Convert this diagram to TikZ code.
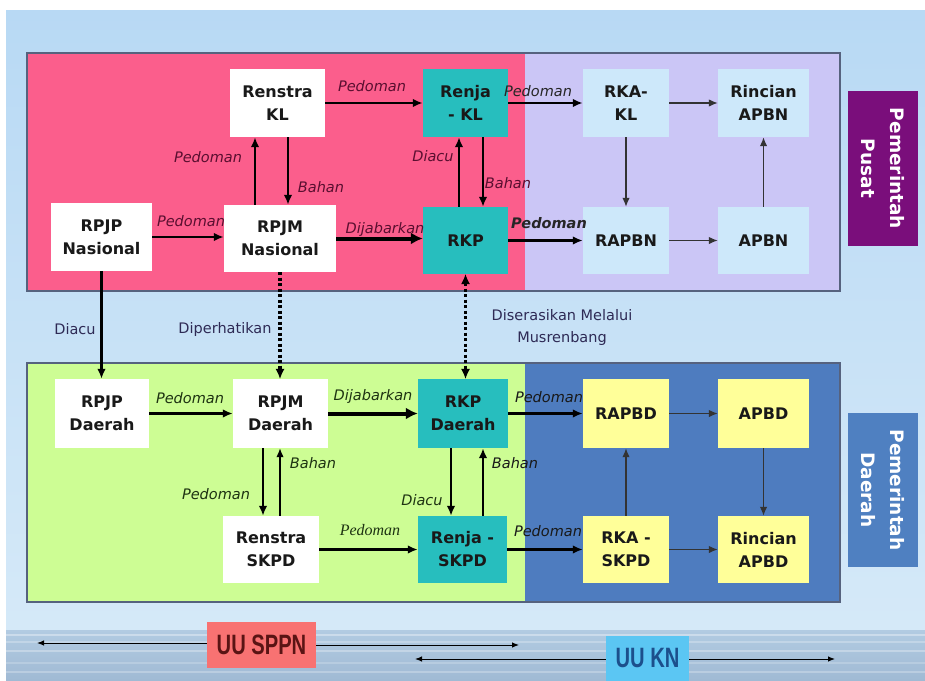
\documentclass[tikz,border=0pt]{standalone}
\usepackage{fontspec}
\setmainfont{DejaVu Sans}
\newfontfamily\serifface{Liberation Serif}
\newfontfamily\narrowface{Liberation Sans}
\usetikzlibrary{arrows.meta}
\definecolor{skyA}{HTML}{B8D9F4}
\definecolor{skyB}{HTML}{D5E9F8}
\definecolor{seaA}{HTML}{B2CBE2}
\definecolor{seaB}{HTML}{A0BAD4}
\definecolor{pinkreg}{HTML}{FB5E8C}
\definecolor{lavreg}{HTML}{CBC6F6}
\definecolor{greenreg}{HTML}{CDFD94}
\definecolor{bluereg}{HTML}{4E7CBF}
\definecolor{tealbox}{HTML}{27BEBE}
\definecolor{lbluebox}{HTML}{CDE8FA}
\definecolor{ybox}{HTML}{FFFF99}
\definecolor{purplelab}{HTML}{7A0E7B}
\definecolor{daerahlab}{HTML}{4F80C1}
\definecolor{sppncol}{HTML}{F87272}
\definecolor{kncol}{HTML}{5BC6F3}
\definecolor{framecol}{HTML}{56627E}
\definecolor{pinktxt}{HTML}{5A0F30}
\definecolor{greentxt}{HTML}{1E3312}
\definecolor{midtxt}{HTML}{2E2A55}
\definecolor{sppntxt}{HTML}{5A1414}
\definecolor{kntxt}{HTML}{1C4F8C}
\begin{document}
\begin{tikzpicture}[x=1pt,y=-1pt,
  box/.style={inner sep=2pt, align=center, text=black!90,
    font=\fontsize{16}{23}\selectfont\bfseries},
  wbox/.style={box, fill=white},
  tbox/.style={box, fill=tealbox},
  lbox/.style={box, fill=lbluebox},
  yebox/.style={box, fill=ybox},
  sidelab/.style={align=center, text=white, rotate=-90,
    font=\fontsize{18.5}{29}\selectfont\bfseries},
  lab/.style={inner sep=0pt, font=\fontsize{14.5}{16}\selectfont\itshape},
  uplab/.style={inner sep=0pt, align=center, font=\fontsize{14.5}{22}\selectfont, text=midtxt},
  arr/.style={line width=2.1pt, -{Latex[length=10pt,width=8.5pt]}},
  thickarr/.style={line width=4pt, -{Latex[length=12pt,width=12pt]}},
  thinarr/.style={line width=1.4pt, draw=black!80, -{Latex[length=9pt,width=7.5pt]}},
  dotarr/.style={line width=3.2pt, dash pattern=on 3pt off 2.5pt},
  dothead/.style={line width=1pt, -{Latex[length=10pt,width=9pt]}},
  lawarr/.style={line width=1pt, -{Latex[length=7pt,width=5.5pt]}}
]
\useasboundingbox (0,0) rectangle (925,680);
\fill[white] (0,0) rectangle (925,680);
\shade[top color=skyA, bottom color=skyB] (6,10) rectangle (925,630);
\shade[top color=seaA, bottom color=seaB] (6,630) rectangle (925,680);
\foreach \yy/\op in {634/0.35,641/0.25,650/0.3,662/0.2,671/0.25}{
  \fill[white, opacity=\op] (6,\yy) rectangle (925,\yy+1.5);
}

% regions
\fill[pinkreg] (27,53) rectangle (525,291);
\fill[lavreg] (525,53) rectangle (840,291);
\draw[framecol, line width=1.2pt] (27,53) rectangle (840,291);
\fill[greenreg] (27,363) rectangle (525,602);
\fill[bluereg] (525,363) rectangle (840,602);
\draw[framecol, line width=1.2pt] (27,363) rectangle (840,602);

% upper nodes
\node[wbox, minimum width=95, minimum height=68] (renstrakl) at (277.5,103) {Renstra\\KL};
\node[wbox, minimum width=101, minimum height=68] (rpjpn) at (101.5,237) {RPJP\\Nasional};
\node[wbox, minimum width=112, minimum height=67] (rpjmn) at (280,238.5) {RPJM\\Nasional};
\node[tbox, minimum width=85, minimum height=68] (renjakl) at (465.5,103) {Renja\\- KL};
\node[tbox, minimum width=85, minimum height=67] (rkp) at (465.5,240.5) {RKP};
\node[lbox, minimum width=86, minimum height=68] (rkakl) at (626,103) {RKA-\\KL};
\node[lbox, minimum width=91, minimum height=68] (rincianapbn) at (763.5,103) {Rincian\\APBN};
\node[lbox, minimum width=86, minimum height=67] (rapbn) at (626,240.5) {RAPBN};
\node[lbox, minimum width=91, minimum height=67] (apbn) at (763.5,240.5) {APBN};
\node[fill=purplelab, minimum width=70, minimum height=155, inner sep=0pt] (pusatbox) at (883,168.5) {};
\node[sidelab] (pusatlab) at (pusatbox.center) {Pemerintah\\Pusat};

% lower nodes
\node[wbox, minimum width=94, minimum height=69] (rpjpd) at (102,413.5) {RPJP\\Daerah};
\node[wbox, minimum width=95, minimum height=69] (rpjmd) at (280.5,413.5) {RPJM\\Daerah};
\node[tbox, minimum width=90, minimum height=69] (rkpd) at (463,413.5) {RKP\\Daerah};
\node[wbox, minimum width=96, minimum height=67] (renstraskpd) at (271,549.5) {Renstra\\SKPD};
\node[tbox, minimum width=89, minimum height=67] (renjaskpd) at (462.5,549.5) {Renja -\\SKPD};
\node[yebox, minimum width=86, minimum height=69] (rapbd) at (626,413.5) {RAPBD};
\node[yebox, minimum width=91, minimum height=69] (apbd) at (763.5,413.5) {APBD};
\node[yebox, minimum width=86, minimum height=67] (rkaskpd) at (626,549.5) {RKA -\\SKPD};
\node[yebox, minimum width=91, minimum height=67] (rincianapbd) at (763.5,549.5) {Rincian\\APBD};
\node[fill=daerahlab, minimum width=70, minimum height=154, inner sep=0pt] (daerahbox) at (883,490) {};
\node[sidelab] (daerahlabel) at (daerahbox.center) {Pemerintah\\Daerah};

% law boxes
\node[fill=sppncol, minimum width=109, minimum height=46, inner sep=0pt,
  text=sppntxt, font=\fontsize{28}{30}\selectfont\bfseries\narrowface] (uusppn) at (261.5,645) {\scalebox{0.72}[1]{UU SPPN}};
\node[fill=kncol, minimum width=83, minimum height=45, inner sep=0pt,
  text=kntxt, font=\fontsize{28}{30}\selectfont\bfseries\narrowface] (uukn) at (647.5,658) {\scalebox{0.72}[1]{UU KN}};
\coordinate (sppnL) at (37,643);
\coordinate (sppnR) at (519,645);
\coordinate (knL) at (415,659);
\coordinate (knR) at (835,659);
\draw[lawarr] (uusppn.west |- sppnL) -- (sppnL);
\draw[lawarr] (uusppn.east |- sppnR) -- (sppnR);
\draw[lawarr] (uukn.west |- knL) -- (knL);
\draw[lawarr] (uukn.east |- knR) -- (knR);

% upper connectors
\draw[arr] (renstrakl.east) -- (renjakl.west);
\draw[arr] ([xshift=-25]rpjmn.north) -- ([xshift=-25]rpjmn.north |- renstrakl.south);
\draw[arr] ([xshift=10.5]renstrakl.south) -- ([xshift=10.5]renstrakl.south |- rpjmn.north);
\draw[arr] (rpjpn.east) -- (rpjpn.east -| rpjmn.west);
\draw[thickarr] (rpjmn.east) -- (rpjmn.east -| rkp.west);
\draw[arr] ([xshift=-6.5]rkp.north) -- ([xshift=-6.5]rkp.north |- renjakl.south);
\draw[arr] ([xshift=17.5]renjakl.south) -- ([xshift=17.5]renjakl.south |- rkp.north);
\draw[arr] (renjakl.east) -- (rkakl.west);
\draw[thinarr] (rkakl.east) -- (rincianapbn.west);
\draw[thinarr] (rkakl.south) -- (rapbn.north);
\draw[arr] (rkp.east) -- (rapbn.west);
\draw[thinarr] (rapbn.east) -- (apbn.west);
\draw[thinarr] (apbn.north) -- (rincianapbn.south);

% between levels
\draw[arr] (rpjpn.south) -- (rpjpn.south |- rpjpd.north);
\draw[dotarr] (rpjmn.south) -- ([yshift=9]rpjmn.south |- rpjmd.north);
\draw[dothead] ([yshift=10]rpjmn.south |- rpjmd.north) -- (rpjmn.south |- rpjmd.north);
\draw[dotarr] ([yshift=-9]rkp.south) -- ([yshift=9]rkp.south |- rkpd.north);
\draw[dothead] ([yshift=10]rkp.south |- rkpd.north) -- (rkp.south |- rkpd.north);
\draw[dothead] ([yshift=-10]rkp.south) -- (rkp.south);

% lower connectors
\draw[arr] (rpjpd.east) -- (rpjmd.west);
\draw[thickarr] (rpjmd.east) -- (rkpd.west);
\draw[arr] ([xshift=-17.5]rpjmd.south) -- ([xshift=-17.5]rpjmd.south |- renstraskpd.north);
\draw[thinarr, draw=black] ([xshift=9]renstraskpd.north) -- ([xshift=9]renstraskpd.north |- rpjmd.south);
\draw[arr] ([xshift=-12]rkpd.south) -- ([xshift=-12]rkpd.south |- renjaskpd.north);
\draw[arr] ([xshift=20.5]renjaskpd.north) -- ([xshift=20.5]renjaskpd.north |- rkpd.south);
\draw[arr] (renstraskpd.east) -- (renjaskpd.west);
\draw[arr] (rkpd.east) -- (rapbd.west);
\draw[thinarr] (rapbd.east) -- (apbd.west);
\draw[thinarr] (rkaskpd.north) -- (rapbd.south);
\draw[thinarr] (apbd.south) -- (rincianapbd.north);
\draw[arr] (renjaskpd.east) -- (rkaskpd.west);
\draw[thinarr] (rkaskpd.east) -- (rincianapbd.west);

% upper labels
\node[lab, text=pinktxt] (l1) at (372,86) {Pedoman};
\node[lab, text=pinktxt] (l2) at (208,157) {Pedoman};
\node[lab, text=pinktxt] (l3) at (321,187) {Bahan};
\node[lab, text=pinktxt] (l4) at (191,221) {Pedoman};
\node[lab, text=pinktxt] (l5) at (385,229) {Dijabarkan};
\node[lab, text=pinktxt] (l6) at (433,156) {Diacu};
\node[lab, text=pinktxt] (l7) at (508,183) {Bahan};
\node[lab, text=black!85] (l8) at (538,91) {Pedoman};
\node[lab, text=black!85, font=\fontsize{14.5}{16}\selectfont\itshape\bfseries] (l9) at (549,223) {Pedoman};

% middle labels
\node[uplab] (m1) at (75,329) {Diacu};
\node[uplab] (m2) at (225,329) {Diperhatikan};
\node[uplab] (m3) at (562,327) {Diserasikan Melalui\\Musrenbang};

% lower labels
\node[lab, text=greentxt] (d1) at (190,398) {Pedoman};
\node[lab, text=greentxt] (d2) at (373,396) {Dijabarkan};
\node[lab, text=greentxt] (d3) at (313,463) {Bahan};
\node[lab, text=greentxt] (d4) at (216,494) {Pedoman};
\node[lab, text=greentxt] (d5) at (422,500) {Diacu};
\node[lab, text=greentxt, font=\fontsize{16}{18}\selectfont\itshape\serifface] (d6) at (370,530) {Pedoman};
\node[lab, text=black!90] (d7) at (515,463) {Bahan};
\node[lab, text=black!90] (d8) at (549,397) {Pedoman};
\node[lab, text=black!90] (d9) at (548,531) {Pedoman};
\end{tikzpicture}
\end{document}
